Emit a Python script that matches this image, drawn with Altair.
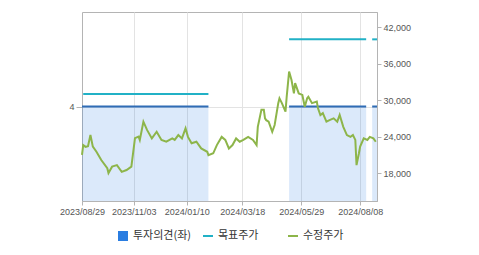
import altair as alt
import pandas as pd

# x positions are trading-day indices
tick_idx = [0, 43, 87, 133, 182, 231]
tick_labels = ["2023/08/29", "2023/11/03", "2024/01/10", "2024/03/18", "2024/05/29", "2024/08/08"]

price_idx = [0, 1, 3, 5, 7, 9, 12, 16, 21, 22, 25, 29, 33, 37, 41, 44, 47, 48, 51, 54,
             58, 62, 66, 70, 75, 77, 80, 83, 86, 88, 91, 95, 99, 104, 105, 109, 112, 116,
             119, 122, 125, 128, 131, 134, 138, 142, 145, 146, 149, 151, 152, 153, 155,
             158, 160, 163, 164, 166, 169, 170, 172, 174, 176, 177, 180, 183, 185, 187,
             188, 191, 195, 196, 198, 200, 203, 206, 209, 212, 214, 217, 220, 223, 225,
             227, 228, 230, 231, 234, 237, 239, 242, 244]
price_val = [21000, 22600, 22300, 22400, 24250, 22350, 21500, 20150, 18800, 18000, 19050,
             19300, 18200, 18500, 19050, 23750, 24000, 23450, 26450, 25100, 23700, 24800,
             23450, 23150, 23700, 23450, 24250, 23700, 25350, 23950, 22900, 23150, 22050,
             21500, 20950, 21250, 22600, 23950, 23450, 22050, 22600, 23700, 23150, 23450,
             23950, 23450, 22600, 25600, 28400, 28400, 27000, 26700, 26450, 24800, 25900,
             29500, 30300, 29500, 28100, 30550, 34700, 33300, 31100, 32800, 31100, 30850,
             28900, 30300, 30550, 29500, 29750, 28650, 27550, 27850, 26450, 26750, 27000,
             26450, 27550, 25600, 24250, 23950, 24250, 23450, 19300, 21250, 22350, 23700,
             23450, 23950, 23700, 23150]

op_start = [0, 172, 241]
op_end = [105, 236, 245]
op_value = [4, 4, 4]

tp_start = [1, 172, 241]
tp_end = [105, 236, 245]
tp_value = [31000, 40000, 40000]

right_ticks = [18000, 24000, 30000, 36000, 42000]

LBL_OP = "투자의견(좌)"
LBL_TP = "목표주가"
LBL_PR = "수정주가"

price_df = pd.DataFrame({"i": price_idx, "price": price_val, "legend": LBL_PR})
op_df = pd.DataFrame({"start": op_start, "end": op_end, "op": op_value,
                      "zero": [0] * len(op_start), "legend": LBL_OP})
tp_df = pd.DataFrame({"start": tp_start, "end": tp_end, "target": tp_value, "legend": LBL_TP})

label_expr = " : ".join(
    [f"datum.value == {v} ? '{t}'" for v, t in zip(tick_idx, tick_labels)]
) + " : ''"

xscale = alt.Scale(domain=[0, 245], nice=False, zero=False)
xaxis = alt.Axis(values=tick_idx, labelExpr=label_expr, title=None, grid=True,
                 tickSize=4, labelPadding=2, labelOverlap=False, labelBound=False,
                 labelFlush=False)

left_scale = alt.Scale(domain=[0, 8], nice=False, zero=False)
right_scale = alt.Scale(domain=[13400, 44500], nice=False, zero=False)
right_axis = alt.Axis(values=right_ticks, orient="right",
                      labelExpr="format(datum.value, ',d')", grid=False,
                      title=None, tickSize=4, labelPadding=2, labelOverlap=False)


def leg(x, stype):
    return alt.Legend(orient="none", legendX=x, legendY=218, title=None,
                      symbolType=stype, symbolSize=100, symbolStrokeWidth=2,
                      symbolOpacity=1, labelFont="Noto Sans CJK KR", labelFontSize=11,
                      labelColor="#333333", padding=0, labelOffset=4)


rect = alt.Chart(op_df).mark_rect(fillOpacity=0.17).encode(
    x=alt.X("start:Q", scale=xscale, axis=xaxis),
    x2="end:Q",
    y=alt.Y("op:Q", scale=left_scale,
            axis=alt.Axis(values=[4], orient="left", grid=True, title=None,
                          tickSize=6, labelPadding=2)),
    y2="zero:Q",
    color=alt.Color("legend:N", scale=alt.Scale(range=["#2a7de1"]),
                    legend=leg(35, "square")),
)

op_rule = alt.Chart(op_df).mark_rule(color="#2f6cb5", strokeWidth=2).encode(
    x=alt.X("start:Q", scale=xscale, axis=xaxis),
    x2="end:Q",
    y=alt.Y("op:Q", scale=left_scale),
)

tp_rule = alt.Chart(tp_df).mark_rule(strokeWidth=2).encode(
    x=alt.X("start:Q", scale=xscale, axis=xaxis),
    x2="end:Q",
    y=alt.Y("target:Q", scale=right_scale, axis=right_axis),
    color=alt.Color("legend:N", scale=alt.Scale(range=["#21b1c6"]),
                    legend=leg(120, "stroke")),
)

pr_line = alt.Chart(price_df).mark_line(strokeWidth=2).encode(
    x=alt.X("i:Q", scale=xscale, axis=xaxis),
    y=alt.Y("price:Q", scale=right_scale, axis=right_axis),
    color=alt.Color("legend:N", scale=alt.Scale(range=["#8db54a"]),
                    legend=leg(205, "stroke")),
)

left = alt.layer(rect, op_rule)
right = alt.layer(tp_rule, pr_line).resolve_scale(color="independent")

chart = alt.layer(left, right).resolve_scale(
    y="independent", color="independent"
).properties(
    width=295, height=189,
    autosize=alt.AutoSizeParams(type="none"),
    padding={"left": 82, "top": 12, "right": 102, "bottom": 54},
).configure_view(
    stroke="#b4b4b4"
).configure_axis(
    labelFont="Liberation Sans", labelFontSize=9, labelColor="#555555",
    domainColor="#b4b4b4", tickColor="#b4b4b4", gridColor="#e3e3e3",
)

chart.save("out.html", embed_options={"renderer": "svg", "actions": False})
